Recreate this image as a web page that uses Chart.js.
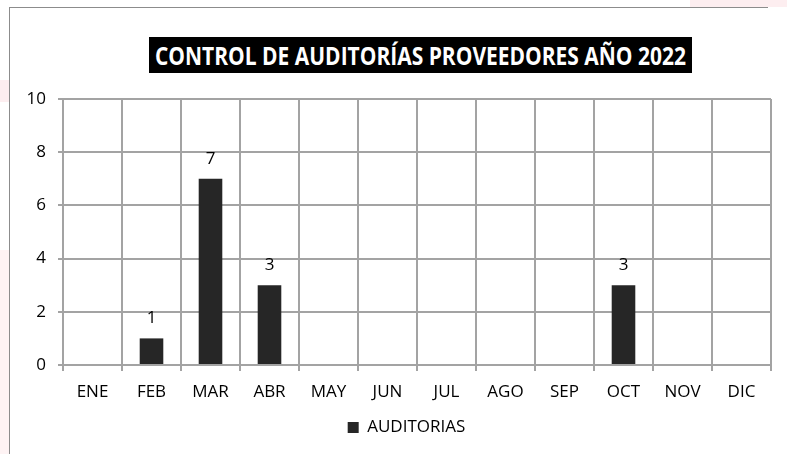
<!DOCTYPE html>
<html>
<head>
<meta charset="utf-8">
<script src="https://cdn.jsdelivr.net/npm/chart.js@4.4.0/dist/chart.umd.min.js"></script>
<style>
  html, body { margin: 0; padding: 0; background: #fff; }
  body { width: 787px; height: 454px; position: relative; overflow: hidden; font-family: "Open Sans", sans-serif; }
  .pink { position: absolute; background: #fdeef0; }
  #frame { position: absolute; left: 9px; top: 7px; width: 758px; height: 460px; border-left: 1px solid #8c8c8c; border-top: 1px solid #8c8c8c; background: #fff; }
  #chartCanvas { position: absolute; left: 0; top: 0; }
  #title { position: absolute; left: 149px; top: 37px; width: 543px; height: 36px; background: #000; color: #fff;
           font: bold 25px "Open Sans", sans-serif; line-height: 36px; white-space: nowrap; overflow: hidden; }
  #title span { display: inline-block; transform-origin: 0 50%; position: relative; left: 6px; }
</style>
</head>
<body>
<div class="pink" style="left:0;top:80px;width:9px;height:22px;"></div>
<div class="pink" style="left:0;top:250px;width:9px;height:204px;background:#fef3f4;"></div>
<div class="pink" style="left:690px;top:0;width:97px;height:7px;"></div>
<div id="frame"></div>
<canvas id="chartCanvas" width="787" height="454"></canvas>
<div id="title"><span id="titleText">CONTROL DE AUDITORÍAS PROVEEDORES AÑO 2022</span></div>

<script>
// Chart data
const months = ['ENE', 'FEB', 'MAR', 'ABR', 'MAY', 'JUN', 'JUL', 'AGO', 'SEP', 'OCT', 'NOV', 'DIC'];
const auditorias = [0, 1, 7, 3, 0, 0, 0, 0, 0, 3, 0, 0];
const yTicks = [0, 2, 4, 6, 8, 10];
const seriesLabel = 'AUDITORIAS';

// squeeze the title text into the black box (Calibri-like narrow look)
const titleSpan = document.getElementById('titleText');
const targetWidth = 531;
titleSpan.style.transform = 'scaleX(' + (targetWidth / titleSpan.offsetWidth) + ')';

const gridColor = '#a3a3a3';
const barColor = '#262626';
const fontFamily = '"Open Sans", sans-serif';
const fontSize = 17;

// draws the value above each bar that is non-zero
const valueLabels = {
    id: 'valueLabels',
    afterDatasetsDraw(chart) {
        const ctx = chart.ctx;
        const meta = chart.getDatasetMeta(0);
        ctx.save();
        ctx.font = fontSize + 'px ' + fontFamily;
        ctx.fillStyle = '#000';
        ctx.textAlign = 'center';
        ctx.textBaseline = 'middle';
        meta.data.forEach((bar, i) => {
            const v = auditorias[i];
            if (v > 0) {
                ctx.fillText(String(v), bar.x, bar.y - 20);
            }
        });
        ctx.restore();
    }
};

// the legend sits a bit right of the canvas centre in the original
const legendShift = {
    id: 'legendShift',
    afterLayout(chart) {
        if (chart.legend) {
            chart.legend.left += 21;
            chart.legend.right += 21;
        }
    }
};

const ctx = document.getElementById('chartCanvas').getContext('2d');
new Chart(ctx, {
    type: 'bar',
    data: {
        labels: months,
        datasets: [{
            label: seriesLabel,
            data: auditorias,
            backgroundColor: barColor,
            borderWidth: 0,
            categoryPercentage: 1,
            barPercentage: 0.4
        }]
    },
    options: {
        responsive: false,
        animation: false,
        devicePixelRatio: 1,
        layout: {
            padding: { top: 99, right: 16, left: 0, bottom: 8 }
        },
        plugins: {
            legend: {
                position: 'bottom',
                labels: {
                    color: '#000',
                    font: { family: fontFamily, size: fontSize },
                    boxWidth: 11,
                    boxHeight: 11,
                    padding: 10
                }
            },
            tooltip: { enabled: false },
            title: { display: false }
        },
        scales: {
            x: {
                grid: {
                    color: gridColor,
                    lineWidth: 2,
                    offset: true,
                    tickLength: 6
                },
                border: { color: gridColor, width: 2 },
                ticks: {
                    color: '#000',
                    font: { family: fontFamily, size: fontSize },
                    padding: 11,
                    maxRotation: 0
                },
                afterFit: (scale) => { scale.height = 44; }
            },
            y: {
                min: 0,
                max: 10,
                grid: {
                    color: gridColor,
                    lineWidth: 2,
                    tickLength: 5
                },
                border: { color: gridColor, width: 2 },
                ticks: {
                    color: '#000',
                    font: { family: fontFamily, size: fontSize },
                    padding: 12,
                    stepSize: 2,
                    callback: (value) => yTicks.includes(value) ? value : null
                },
                afterFit: (scale) => { scale.width = 63; }
            }
        }
    },
    plugins: [valueLabels, legendShift]
});
</script>
</body>
</html>
